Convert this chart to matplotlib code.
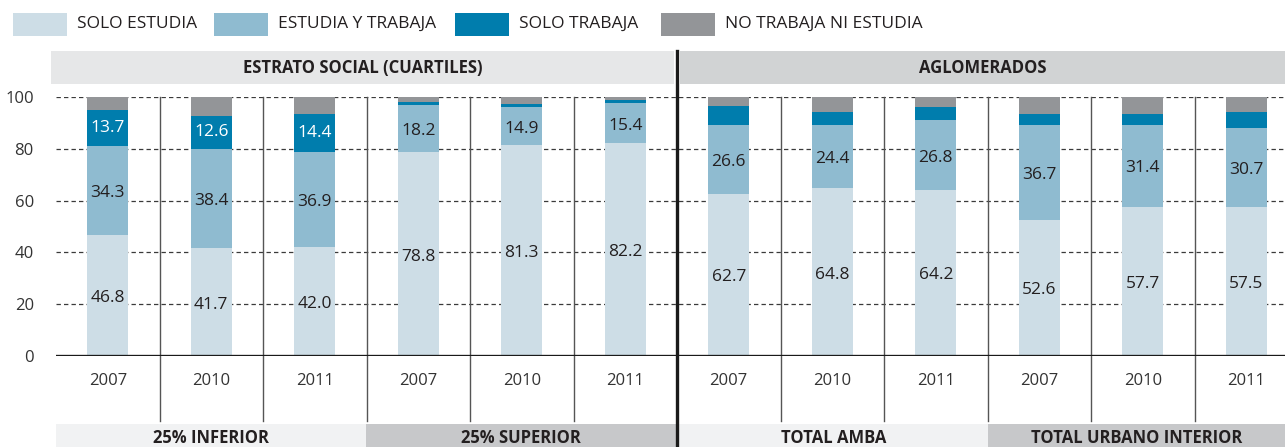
import numpy as np
import matplotlib
matplotlib.use("Agg")
import matplotlib.pyplot as plt
from matplotlib.patches import Rectangle
import matplotlib.transforms as mtransforms

plt.rcParams['font.family'] = ['Open Sans', 'DejaVu Sans']

# Data
years = ['2007', '2010', '2011'] * 4
groups = ['25% INFERIOR', '25% SUPERIOR', 'TOTAL AMBA', 'TOTAL URBANO INTERIOR']
headers = ['ESTRATO SOCIAL (CUARTILES)', 'AGLOMERADOS']
series = ['SOLO ESTUDIA', 'ESTUDIA Y TRABAJA', 'SOLO TRABAJA', 'NO TRABAJA NI ESTUDIA']

solo_estudia = np.array([46.8, 41.7, 42.0, 78.8, 81.3, 82.2, 62.7, 64.8, 64.2, 52.6, 57.7, 57.5])
estudia_trabaja = np.array([34.3, 38.4, 36.9, 18.2, 14.9, 15.4, 26.6, 24.4, 26.8, 36.7, 31.4, 30.7])
solo_trabaja = np.array([13.7, 12.6, 14.4, 1.1, 1.1, 1.4, 7.4, 5.0, 5.0, 4.0, 4.4, 6.0])
ni_ni = 100 - solo_estudia - estudia_trabaja - solo_trabaja

colors = ['#cddde6', '#8fbbd0', '#007dad', '#939598']
txt_dark = '#231f20'

W, H = 1285, 447
fig = plt.figure(figsize=(W / 100, H / 100), dpi=100)
ax = fig.add_axes([56 / W, 91 / H, (1285 - 56) / W, 259 / H])

x = np.arange(len(years))
cell = 103.5
ax.set_xlim(-0.5, -0.5 + (1285 - 56) / cell)
ax.set_ylim(0, 100)

# dashed gridlines behind the bars
for v in [20, 40, 60, 80, 100]:
    ax.axhline(v, color='#3a3a3a', lw=0.9, ls=(0, (3.5, 2.5)), zorder=0)
ax.axhline(0, color='#1a1a1a', lw=2.4, zorder=3)

# stacked bars
bw = 41 / cell
bottom = np.zeros(len(x))
for vals, c in zip([solo_estudia, estudia_trabaja, solo_trabaja, ni_ni], colors):
    ax.bar(x, vals, bw, bottom=bottom, color=c, zorder=2, linewidth=0)
    bottom += vals

# value labels
for i in range(len(x)):
    ax.text(x[i], solo_estudia[i] / 2 - 1, f'{solo_estudia[i]:.1f}', ha='center', va='center',
            fontsize=12.5, color=txt_dark, zorder=4)
    ax.text(x[i], solo_estudia[i] + estudia_trabaja[i] / 2 - 1, f'{estudia_trabaja[i]:.1f}',
            ha='center', va='center', fontsize=12.5, color=txt_dark, zorder=4)
    if solo_trabaja[i] > 10:
        ax.text(x[i], solo_estudia[i] + estudia_trabaja[i] + solo_trabaja[i] / 2,
                f'{solo_trabaja[i]:.1f}', ha='center', va='center', fontsize=12.5,
                color='white', zorder=4)

ax.set_yticks([0, 20, 40, 60, 80, 100])
ax.tick_params(axis='y', length=0, pad=16, labelsize=12, labelcolor='#333333')
ax.set_xticks([])
for s in ax.spines.values():
    s.set_visible(False)

trans = mtransforms.blended_transform_factory(ax.transData, ax.transAxes)

def ay(py):
    # pixel row -> axes fraction
    return (356 - py) / 259

# cell dividers
for d in np.arange(0.5, 11, 1.0):
    if d == 5.5:
        continue
    ax.plot([d, d], [1.0, ay(421)], transform=trans, color='#555555', lw=1.0,
            clip_on=False, zorder=1)
ax.plot([5.5, 5.5], [ay(51), ay(450)], transform=trans, color='#1a1a1a', lw=2.4,
        clip_on=False, zorder=5)

# year labels
for xi, yr in zip(x, years):
    ax.text(xi, ay(381), yr, transform=trans, ha='center', va='center', fontsize=12,
            color='#333333')

# header bands
def xd(px):
    return (px - 56) / cell - 0.5

hdr_spans = [(51, 674, '#e6e7e8'), (680, 1290, '#d1d3d4')]
for (a, b, c), t in zip(hdr_spans, headers):
    ax.add_patch(Rectangle((xd(a), ay(84)), xd(b) - xd(a), ay(51) - ay(84), transform=trans,
                           facecolor=c, edgecolor='none', clip_on=False, zorder=1))
    ax.text((xd(a) + min(xd(b), xd(1285))) / 2, ay(68), t, transform=trans, ha='center',
            va='center', fontsize=12, fontweight='bold', color=txt_dark)

# group bands
grp_spans = [(56, 366, '#f1f2f3'), (366, 676, '#c7c8ca'), (679, 988, '#f1f2f3'), (988, 1290, '#c7c8ca')]
for (a, b, c), t in zip(grp_spans, groups):
    ax.add_patch(Rectangle((xd(a), ay(450)), xd(b) - xd(a), ay(424) - ay(450), transform=trans,
                           facecolor=c, edgecolor='none', clip_on=False, zorder=1))
    ax.text((xd(a) + min(xd(b), xd(1285))) / 2, ay(438), t, transform=trans, ha='center',
            va='center', fontsize=12, fontweight='bold', color=txt_dark)

# legend
leg_x = [13, 214, 455, 661]
for px, c, lab in zip(leg_x, colors, series):
    fig.patches.append(Rectangle((px / W, 1 - 36 / H), 54 / W, 23 / H, transform=fig.transFigure,
                                 facecolor=c, edgecolor='none'))
    fig.text((px + 64) / W, 1 - 23.5 / H, lab, ha='left', va='center', fontsize=12.5,
             color=txt_dark)

fig.savefig('out.png', dpi=100)
